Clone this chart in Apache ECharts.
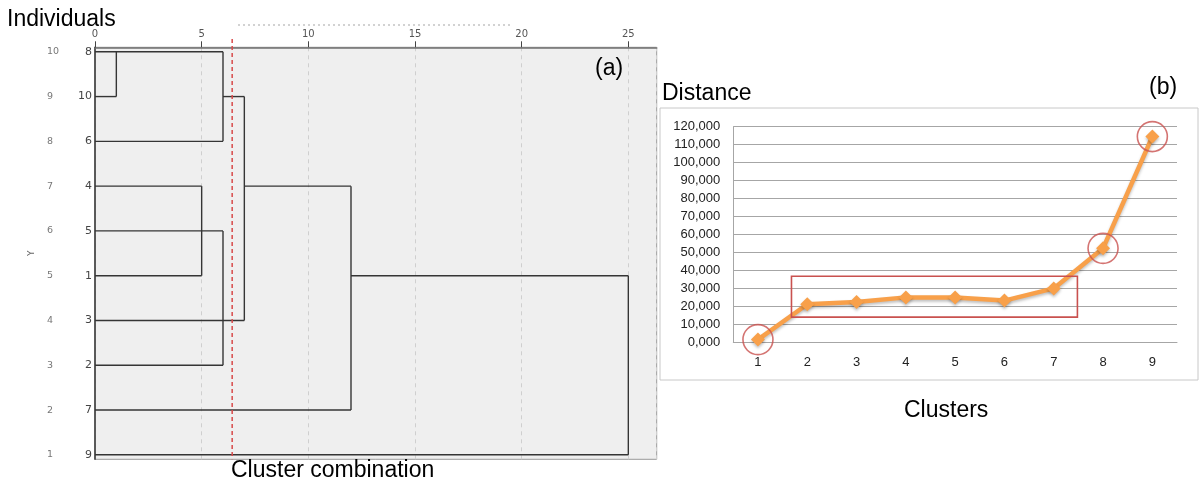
<!DOCTYPE html>
<html>
<head>
<meta charset="utf-8">
<script src="https://cdn.jsdelivr.net/npm/echarts@6/dist/echarts.min.js"></script>
<style>
  html, body { margin: 0; padding: 0; background: #ffffff; }
  #chart { width: 1199px; height: 485px; }
</style>
</head>
<body>
<div id="chart"></div>
<script>
// ---------- Panel (a): dendrogram ----------
const leafLabels = ['9', '7', '2', '3', '1', '5', '4', '6', '10', '8']; // rows 1..10 (bottom to top)
const rowLabels = ['1', '2', '3', '4', '5', '6', '7', '8', '9', '10'];
const distanceTicks = [0, 5, 10, 15, 20, 25];
// horizontal links: [row, fromDistance, toDistance]
const hLinks = [
  [10, 0, 6], [9, 0, 1], [9, 6, 7], [8, 0, 6], [7, 0, 5], [7, 7, 12],
  [6, 0, 6], [5, 0, 5], [5, 12, 25], [4, 0, 7], [3, 0, 6], [2, 0, 12], [1, 0, 25]
];
// vertical links: [distance, fromRow, toRow]
const vLinks = [
  [1, 10, 9], [6, 10, 8], [5, 7, 5], [6, 6, 3], [7, 9, 4], [12, 7, 2], [25, 5, 1]
];
const cutDistance = 6.43;

// ---------- Panel (b): distance vs clusters ----------
const clusterLabels = ['1', '2', '3', '4', '5', '6', '7', '8', '9'];
const distances = [1500, 21200, 22400, 25000, 25000, 23200, 30000, 52300, 114500];
const circledClusters = ['1', '8', '9'];
const plateauBox = [1.68, 14000, 7.48, 36800]; // [fromCluster, fromDist, toCluster, toDist]

const segData = [];
hLinks.forEach(h => segData.push([h[1], h[0], h[2], h[0]]));
vLinks.forEach(v => segData.push([v[0], v[1], v[0], v[2]]));

const chart = echarts.init(document.getElementById('chart'), null, { renderer: 'canvas' });
const sans = '"Liberation Sans", Arial, sans-serif';

function lineItem(color, width, dash) {
  return function (params, api) {
    const p1 = api.coord([api.value(0), api.value(1)]);
    const p2 = api.coord([api.value(2), api.value(3)]);
    return {
      type: 'line',
      shape: { x1: p1[0], y1: p1[1], x2: p2[0], y2: p2[1] },
      style: { stroke: color, lineWidth: width, lineDash: dash || null }
    };
  };
}

const option = {
  backgroundColor: '#ffffff',
  animation: false,
  grid: [
    { left: 95, right: 542.3, top: 47.3, bottom: 25.7, show: true, backgroundColor: '#efefef', borderColor: '#9a9a9a', borderWidth: 1 },
    { left: 733.3, right: 22, top: 126.7, bottom: 142.7 }
  ],
  xAxis: [
    {
      gridIndex: 0, type: 'value', position: 'top', min: 0, max: 26.33, interval: 5,
      axisLine: { lineStyle: { color: '#707070', width: 1.5 } },
      axisTick: { show: true, length: 6, lineStyle: { color: '#444' } },
      axisLabel: { color: '#555', fontSize: 10, fontFamily: 'DejaVu Sans', margin: 8, showMaxLabel: false,
        formatter: v => (distanceTicks.indexOf(v) >= 0 ? String(v) : '') },
      splitLine: { show: true, lineStyle: { color: '#cfcfcf', type: [4, 4], width: 1 } }
    },
    {
      gridIndex: 1, type: 'category', data: clusterLabels, boundaryGap: true,
      axisLine: { lineStyle: { color: '#a6a6a6' } },
      axisTick: { show: false },
      axisLabel: { color: '#222', fontSize: 13, fontFamily: sans, margin: 14 }
    },
    { gridIndex: 1, type: 'value', min: 0.5, max: 9.5, show: false }
  ],
  yAxis: [
    {
      gridIndex: 0, type: 'value', min: 0.9, max: 10.1,
      axisLine: { show: true, lineStyle: { color: '#333', width: 1.5 } },
      axisTick: { show: false },
      splitLine: { show: false },
      axisLabel: { customValues: [1, 2, 3, 4, 5, 6, 7, 8, 9, 10], formatter: v => leafLabels[Math.round(v) - 1],
        color: '#444', fontSize: 11, fontFamily: 'DejaVu Sans', margin: 3 }
    },
    {
      gridIndex: 0, type: 'value', min: 0.9, max: 10.1, position: 'left',
      axisLine: { show: false }, axisTick: { show: false }, splitLine: { show: false },
      axisLabel: { customValues: [1, 2, 3, 4, 5, 6, 7, 8, 9, 10], formatter: v => rowLabels[Math.round(v) - 1],
        color: '#777', fontSize: 9.5, fontFamily: 'DejaVu Sans', margin: 48, align: 'left' },
      name: 'Y', nameLocation: 'middle', nameRotate: 90, nameGap: 59,
      nameTextStyle: { color: '#666', fontSize: 9, fontFamily: 'DejaVu Sans' }
    },
    {
      gridIndex: 1, type: 'value', min: 0, max: 120000, interval: 10000,
      axisLine: { show: true, lineStyle: { color: '#a6a6a6' } },
      axisTick: { show: false },
      splitLine: { show: true, lineStyle: { color: '#a6a6a6', width: 1 } },
      axisLabel: { color: '#222', fontSize: 13, fontFamily: sans, margin: 13,
        formatter: v => (v === 0 ? '0,000' : (v / 1000) + ',000') }
    }
  ],
  graphic: [
    { type: 'rect', z: -10, shape: { x: 660, y: 108, width: 538, height: 272 }, style: { fill: 'none', stroke: '#c8c8c8', lineWidth: 1 } },
    { type: 'line', shape: { x1: 238, y1: 25, x2: 513, y2: 25 }, style: { stroke: '#c4c4c4', lineWidth: 1.5, lineDash: [2, 3] } },
    { type: 'text', left: 7, top: 8, style: { text: 'Individuals', font: '23px ' + sans, fill: '#000' } },
    { type: 'text', left: 595, top: 57, style: { text: '(a)', font: '23px ' + sans, fill: '#000' } },
    { type: 'text', left: 231, top: 459, style: { text: 'Cluster combination', font: '23px ' + sans, fill: '#000' } },
    { type: 'text', left: 662, top: 82, style: { text: 'Distance', font: '23px ' + sans, fill: '#000' } },
    { type: 'text', left: 1149, top: 76, style: { text: '(b)', font: '23px ' + sans, fill: '#000' } },
    { type: 'text', left: 904, top: 399, style: { text: 'Clusters', font: '23px ' + sans, fill: '#000' } }
  ],
  series: [
    {
      type: 'custom', xAxisIndex: 0, yAxisIndex: 0, clip: false, z: 3,
      renderItem: lineItem('#353535', 1.4),
      data: segData
    },
    {
      type: 'custom', xAxisIndex: 0, yAxisIndex: 0, clip: false, z: 4,
      renderItem: lineItem('#d84a4a', 1.5, [4, 3]),
      data: [[cutDistance, 10.285, cutDistance, 0.9]]
    },
    {
      type: 'line', xAxisIndex: 1, yAxisIndex: 2, data: distances,
      symbol: 'diamond', symbolSize: 14, z: 3,
      lineStyle: { color: '#f8a04a', width: 4.5, shadowColor: 'rgba(0,0,0,0.25)', shadowBlur: 3, shadowOffsetY: 2 },
      itemStyle: { color: '#f8a04a', shadowColor: 'rgba(0,0,0,0.25)', shadowBlur: 3, shadowOffsetY: 2 }
    },
    {
      type: 'scatter', xAxisIndex: 1, yAxisIndex: 2, z: 5,
      data: circledClusters.map(c => [c, distances[clusterLabels.indexOf(c)]]),
      symbol: 'circle', symbolSize: 30,
      itemStyle: { color: 'rgba(0,0,0,0)', borderColor: '#c9514f', borderWidth: 1.6 }
    },
    {
      type: 'custom', xAxisIndex: 2, yAxisIndex: 2, z: 5,
      renderItem: function (params, api) {
        const p1 = api.coord([api.value(0), api.value(3)]);
        const p2 = api.coord([api.value(2), api.value(1)]);
        return { type: 'rect', shape: { x: p1[0], y: p1[1], width: p2[0] - p1[0], height: p2[1] - p1[1] },
          style: { fill: 'none', stroke: '#c9514f', lineWidth: 1.6 } };
      },
      data: [plateauBox]
    }
  ]
};
chart.setOption(option);
</script>
</body>
</html>
